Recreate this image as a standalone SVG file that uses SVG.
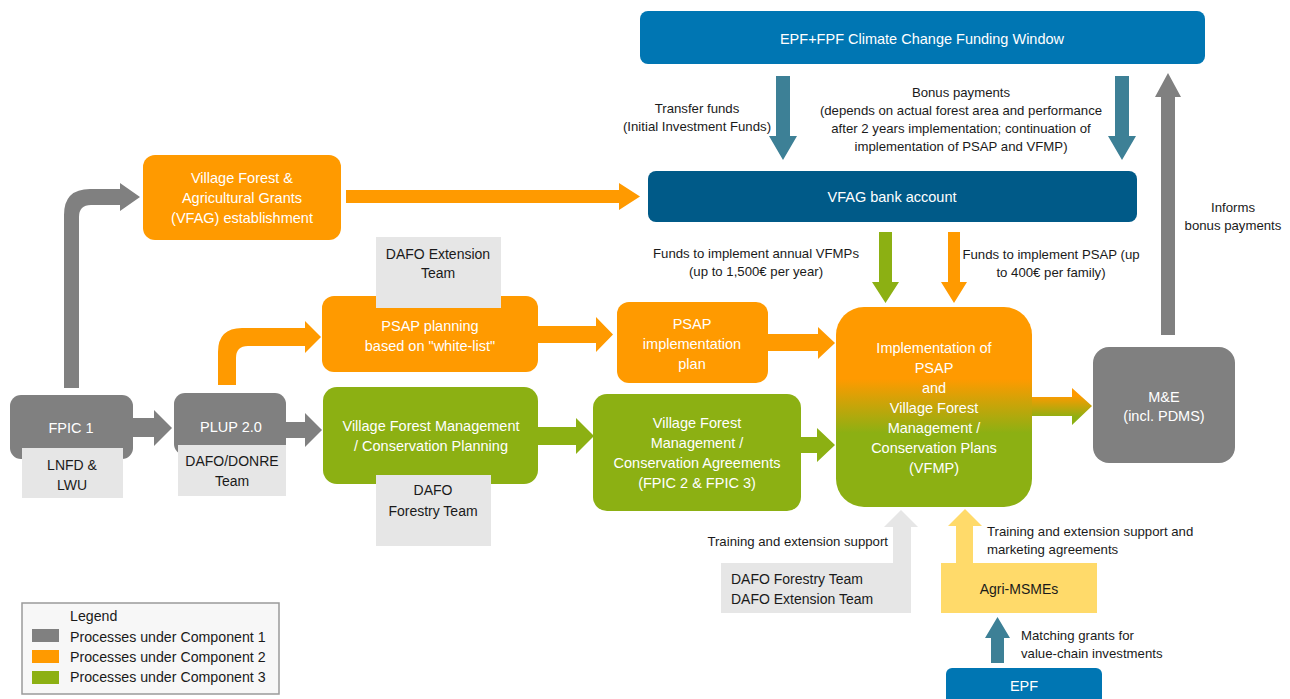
<svg xmlns="http://www.w3.org/2000/svg" width="1290" height="699" viewBox="0 0 1290 699">
<defs>
<style>
text{font-family:"Liberation Sans",Arial,sans-serif;}
.w{fill:#fff;font-size:14.5px;text-anchor:middle;}
.k{fill:#1a1a1a;font-size:14px;text-anchor:middle;}
.ks{fill:#1a1a1a;font-size:14px;text-anchor:start;}
.l{fill:#1a1a1a;font-size:13.2px;text-anchor:middle;}
.ls{fill:#1a1a1a;font-size:13.2px;text-anchor:start;}
.le{fill:#1a1a1a;font-size:13.2px;text-anchor:end;}
.lgt{fill:#1a1a1a;font-size:14.2px;text-anchor:start;}
.gr{fill:#808080;}
.or{fill:#FF9A00;}
.gn{fill:#8CB013;}
.lg{fill:#E6E6E6;}
.tl{fill:#3D8096;}
.bl{fill:#0076B3;}
.db{fill:#005A88;}
.ye{fill:#FFDA6A;}
</style>
<linearGradient id="impl" x1="0" y1="0" x2="0" y2="1">
<stop offset="0" stop-color="#FF9A00"/>
<stop offset="0.36" stop-color="#FF9A00"/>
<stop offset="0.63" stop-color="#8CB013"/>
<stop offset="1" stop-color="#8CB013"/>
</linearGradient>
<linearGradient id="me" x1="0" y1="0" x2="0" y2="1">
<stop offset="0.2" stop-color="#FF9A00"/>
<stop offset="0.8" stop-color="#8CB013"/>
</linearGradient>
</defs>

<g id="connectors">
<polygon class="tl" points="776,76 790,76 790,136 797,136 783,160 769,136 776,136"/>
<polygon class="tl" points="1115,76 1129,76 1129,136 1136,136 1122,160 1108,136 1115,136"/>
<polygon class="gr" points="1161,335 1175,335 1175,97 1181,97 1168,73 1155,97 1161,97"/>
<polygon class="or" points="346,190 619,190 619,183 640,196.5 619,210 619,203 346,203"/>
<path class="gr" d="M64,388 L64,215 Q64,189 90,189 L120,189 L120,183 L140,197 L120,211 L120,205 L91,205 Q79,205 79,217 L79,388 Z"/>
<path class="or" d="M218,385 L218,352 Q218,328 242,328 L305,328 L305,321 L321,337 L305,353 L305,346 L248,346 Q236,346 236,358 L236,385 Z"/>
<polygon class="gn" points="879,232 892,232 892,282 899,282 885.5,303 872,282 879,282"/>
<polygon class="or" points="948,232 960,232 960,282 967,282 954,303 941,282 948,282"/>
<polygon class="gr" points="133,418 154,418 154,410 172,428 154,446 154,437 133,437"/>
<polygon class="gr" points="286,422 305,422 305,413 322,430 305,447 305,438 286,438"/>
<polygon class="or" points="538,326 596,326 596,317 613,334.5 596,352 596,343 538,343"/>
<polygon class="or" points="768,334 818,334 818,327 835,343 818,359 818,351 768,351"/>
<polygon class="gn" points="538,427 576,427 576,418 594,436 576,454 576,445 538,445"/>
<polygon class="gn" points="801,437 817,437 817,428 835,445 817,462 817,453 801,453"/>
<polygon fill="url(#me)" points="1032,397 1072,397 1072,388 1092,406 1072,425 1072,416 1032,416"/>
<polygon class="lg" points="893,563 893,527 884,527 901,510 918,527 911,527 911,563"/>
<polygon class="ye" points="956,563 956,526 948,526 965,509 982,526 973,526 973,563"/>
<polygon class="tl" points="991,663 991,638 985,638 997.5,617 1010,638 1004,638 1004,663"/>
</g>

<g id="epf-fpf-window">
<rect class="bl" x="640" y="11" width="565" height="53" rx="8"/>
<text class="w" x="922" y="44">EPF+FPF Climate Change Funding Window</text>
</g>

<g id="label-transfer">
<text class="l" x="697" y="113">Transfer funds</text>
<text class="l" x="697" y="131">(Initial Investment Funds)</text>
</g>

<g id="label-bonus">
<text class="l" x="961" y="97">Bonus payments</text>
<text class="l" x="961" y="115">(depends on actual forest area and performance</text>
<text class="l" x="961" y="133">after 2 years implementation; continuation of</text>
<text class="l" x="961" y="151">implementation of PSAP and VFMP)</text>
</g>

<g id="vfag-bank">
<rect class="db" x="648" y="171" width="489" height="51" rx="8"/>
<text class="w" x="892" y="202">VFAG bank account</text>
</g>

<g id="vfag-establishment">
<rect class="or" x="143" y="155" width="198" height="85" rx="12"/>
<text class="w" x="242" y="183">Village Forest &amp;</text>
<text class="w" x="242" y="203">Agricultural Grants</text>
<text class="w" x="242" y="223">(VFAG) establishment</text>
</g>

<g id="label-informs">
<text class="l" x="1233" y="212">Informs</text>
<text class="l" x="1233" y="230">bonus payments</text>
</g>

<g id="label-funds-vfmp">
<text class="l" x="756" y="258">Funds to implement annual VFMPs</text>
<text class="l" x="756" y="276">(up to 1,500€ per year)</text>
</g>

<g id="label-funds-psap">
<text class="l" x="1051" y="259">Funds to implement PSAP (up</text>
<text class="l" x="1051" y="277">to 400€ per family)</text>
</g>

<g id="psap-planning">
<rect class="or" x="322" y="296" width="216" height="76" rx="12"/>
<text class="w" x="430" y="331">PSAP planning</text>
<text class="w" x="430" y="351">based on "white-list"</text>
</g>

<g id="dafo-extension">
<rect class="lg" x="376" y="237" width="125" height="71"/>
<text class="k" x="438" y="259">DAFO Extension</text>
<text class="k" x="438" y="278">Team</text>
</g>

<g id="psap-implementation-plan">
<rect class="or" x="617" y="302" width="151" height="81" rx="12"/>
<text class="w" x="692" y="329">PSAP</text>
<text class="w" x="692" y="349">implementation</text>
<text class="w" x="692" y="369">plan</text>
</g>

<g id="fpic1">
<rect class="gr" x="10" y="395" width="123" height="64" rx="11"/>
<text class="w" x="71" y="433">FPIC 1</text>
</g>

<g id="lnfd-lwu">
<rect class="lg" x="22" y="448" width="101" height="50"/>
<text class="k" x="72" y="470">LNFD &amp;</text>
<text class="k" x="72" y="490">LWU</text>
</g>

<g id="plup">
<rect class="gr" x="174" y="393" width="112" height="62" rx="11"/>
<text class="w" x="231" y="432">PLUP 2.0</text>
</g>

<g id="dafo-donre">
<rect class="lg" x="178" y="445" width="108" height="51"/>
<text class="k" x="232" y="466">DAFO/DONRE</text>
<text class="k" x="232" y="486">Team</text>
</g>

<g id="vfm-planning">
<rect class="gn" x="323" y="387" width="215" height="97" rx="14"/>
<text class="w" x="431" y="431">Village Forest Management</text>
<text class="w" x="431" y="451">/ Conservation Planning</text>
</g>

<g id="dafo-forestry">
<rect class="lg" x="376" y="475" width="115" height="71"/>
<text class="k" x="433" y="495">DAFO</text>
<text class="k" x="433" y="516">Forestry Team</text>
</g>

<g id="vfm-agreements">
<rect class="gn" x="593" y="394" width="208" height="117" rx="14"/>
<text class="w" x="697" y="428">Village Forest</text>
<text class="w" x="697" y="448">Management /</text>
<text class="w" x="697" y="468">Conservation Agreements</text>
<text class="w" x="697" y="488">(FPIC 2 &amp; FPIC 3)</text>
</g>

<g id="implementation">
<rect fill="url(#impl)" x="836" y="307" width="196" height="200" rx="28"/>
<text class="w" x="934" y="353">Implementation of</text>
<text class="w" x="934" y="373">PSAP</text>
<text class="w" x="934" y="393">and</text>
<text class="w" x="934" y="413">Village Forest</text>
<text class="w" x="934" y="433">Management /</text>
<text class="w" x="934" y="453">Conservation Plans</text>
<text class="w" x="934" y="473">(VFMP)</text>
</g>

<g id="me">
<rect class="gr" x="1093" y="347" width="142" height="116" rx="16"/>
<text class="w" x="1164" y="402">M&amp;E</text>
<text class="w" x="1164" y="421">(incl. PDMS)</text>
</g>

<g id="label-training">
<text class="le" x="888" y="546">Training and extension support</text>
</g>

<g id="dafo-teams">
<rect class="lg" x="721" y="563" width="190" height="50"/>
<text class="ks" x="731" y="584">DAFO Forestry Team</text>
<text class="ks" x="731" y="604">DAFO Extension Team</text>
</g>

<g id="label-training-marketing">
<text class="ls" x="987" y="536">Training and extension support and</text>
<text class="ls" x="987" y="554">marketing agreements</text>
</g>

<g id="agri-msmes">
<rect class="ye" x="941" y="563" width="156" height="50"/>
<text class="k" x="1019" y="594">Agri-MSMEs</text>
</g>

<g id="label-matching">
<text class="ls" x="1021" y="640">Matching grants for</text>
<text class="ls" x="1021" y="658">value-chain investments</text>
</g>

<g id="epf">
<rect class="bl" x="946" y="668" width="156" height="45" rx="6"/>
<text class="w" x="1024" y="691">EPF</text>
</g>

<g id="legend">
<rect x="22" y="603" width="257" height="91" fill="#F7F7F7" stroke="#9A9A9A" stroke-width="1.5"/>
<text class="lgt" x="70" y="621">Legend</text>
<rect class="gr" x="32" y="629" width="27" height="13"/>
<rect class="or" x="32" y="650" width="27" height="13"/>
<rect class="gn" x="32" y="671" width="27" height="13"/>
<text class="lgt" x="70" y="642">Processes under Component 1</text>
<text class="lgt" x="70" y="662">Processes under Component 2</text>
<text class="lgt" x="70" y="682">Processes under Component 3</text>
</g>
</svg>
